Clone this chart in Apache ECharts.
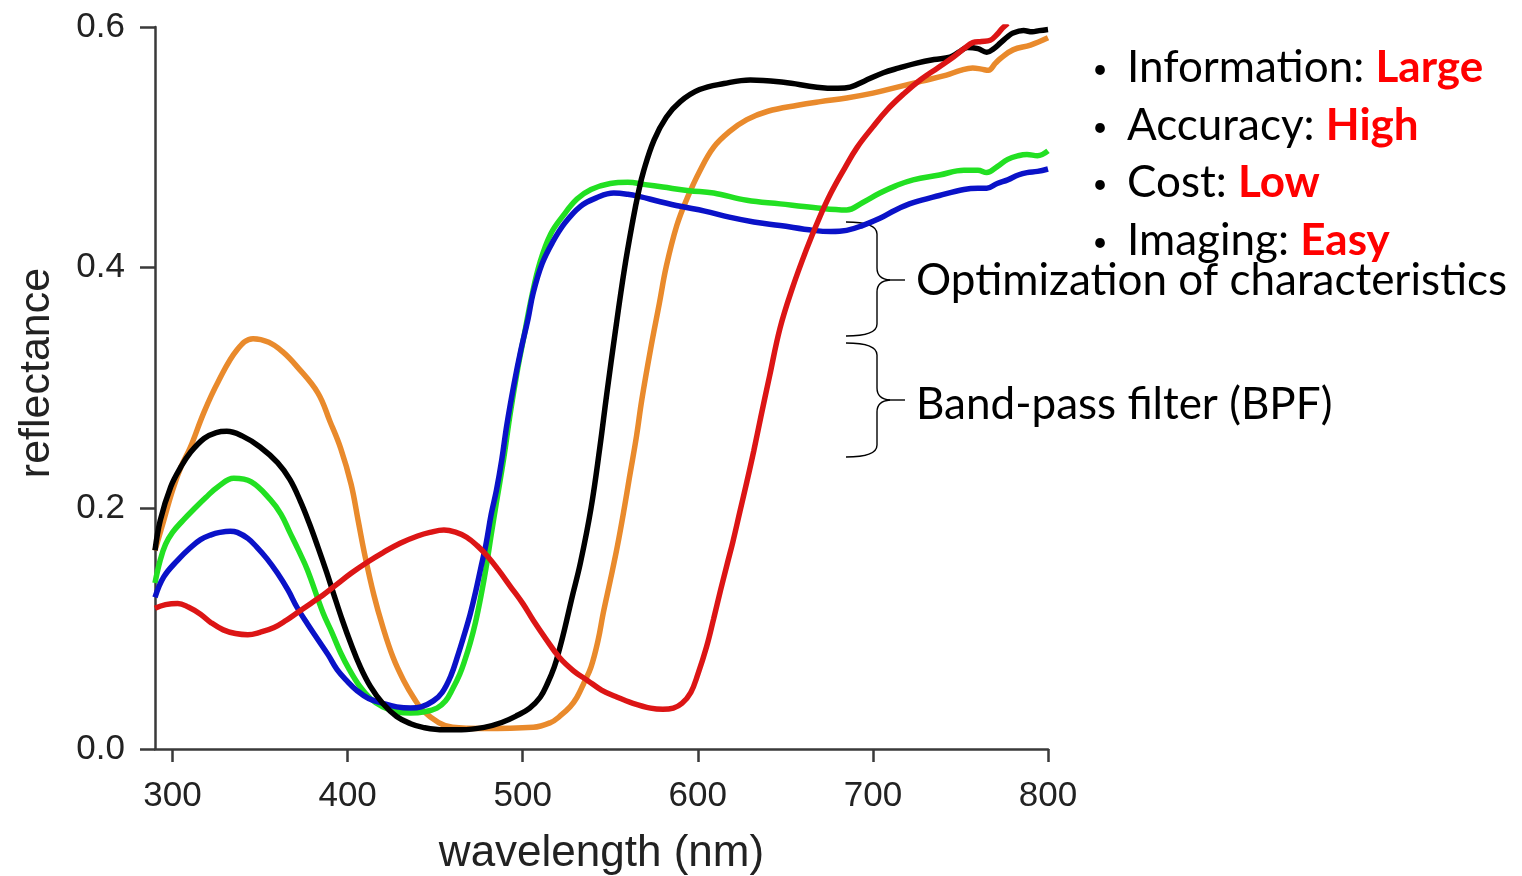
<!DOCTYPE html>
<html>
<head>
<meta charset="utf-8">
<script src="https://cdn.jsdelivr.net/npm/echarts@6/dist/echarts.min.js"></script>
<style>
html,body{margin:0;padding:0;background:#fff;}
#chart{width:1522px;height:876px;}
</style>
</head>
<body>
<div id="chart"></div>
<script>
// ---- data (wavelength in nm, reflectance) ----
const xTicks = [300, 400, 500, 600, 700, 800];
const yTicks = [0.0, 0.2, 0.4, 0.6];

const orangeX = [290,295,300,305,310,318,326,337,346,355,363,371,383,390,396,402,406,410,415,420,426,432,438,443,452,460,477,506,516,521,527,531,535,539,543,546,550,554,558,561,565,568,573,578,582,588,594,601,609,618,628,640,657,670,685,700,714,728,742,750,757,762,766,770,773,780,790,800];
const orangeY = [0.165,0.19,0.215,0.235,0.25,0.28,0.305,0.332,0.341,0.338,0.33,0.318,0.296,0.272,0.25,0.22,0.19,0.16,0.128,0.102,0.076,0.057,0.042,0.032,0.022,0.018,0.017,0.018,0.022,0.027,0.035,0.043,0.055,0.068,0.09,0.113,0.14,0.168,0.2,0.226,0.26,0.29,0.332,0.37,0.401,0.435,0.458,0.48,0.5,0.513,0.523,0.53,0.535,0.538,0.541,0.545,0.55,0.555,0.56,0.564,0.566,0.565,0.564,0.57,0.574,0.581,0.585,0.591];

const greenX = [290,293,296,300,306,312,319,326,335,345,356,362,367,372,377,386,391,396,401,407,413,420,428,436,444,451,456,460,464,467,470,473,476,479,482,485,489,493,497,501,505,510,516,523,531,539,550,560,570,580,595,609,628,647,666,685,694,704,713,723,738,752,760,765,771,777,783,788,794,800];
const greenY = [0.138,0.157,0.17,0.18,0.19,0.199,0.209,0.218,0.225,0.222,0.207,0.195,0.18,0.165,0.149,0.113,0.097,0.08,0.066,0.052,0.042,0.035,0.031,0.03,0.031,0.034,0.04,0.05,0.062,0.074,0.088,0.105,0.126,0.15,0.178,0.205,0.24,0.28,0.315,0.345,0.375,0.405,0.428,0.443,0.457,0.465,0.47,0.471,0.469,0.467,0.464,0.462,0.456,0.453,0.45,0.448,0.454,0.462,0.468,0.473,0.477,0.481,0.481,0.479,0.484,0.49,0.493,0.494,0.493,0.497];

const blueX = [290,295,303,310,316,322,327,333,337,343,348,354,360,366,371,377,383,389,394,400,405,412,420,428,436,442,449,454,459,463,466,470,473,476,479,482,485,488,491,495,499,503,506,511,517,524,533,542,552,560,567,578,590,604,618,632,647,666,676,685,694,704,713,723,738,752,760,765,771,777,783,788,794,800];
const blueY = [0.126,0.143,0.157,0.167,0.174,0.178,0.18,0.181,0.18,0.175,0.168,0.158,0.146,0.132,0.118,0.104,0.091,0.078,0.066,0.056,0.049,0.042,0.038,0.035,0.034,0.035,0.04,0.047,0.061,0.078,0.092,0.112,0.13,0.15,0.17,0.195,0.215,0.24,0.27,0.303,0.332,0.357,0.379,0.403,0.421,0.437,0.451,0.458,0.462,0.461,0.459,0.455,0.451,0.447,0.442,0.438,0.435,0.431,0.43,0.431,0.435,0.441,0.448,0.454,0.46,0.465,0.466,0.466,0.47,0.473,0.477,0.479,0.48,0.482];

const blackX = [290,293,299,305,310,318,325,331,340,350,360,367,373,378,383,388,392,397,402,407,413,420,428,436,443,455,465,478,488,497,504,510,514,518,521,524,528,533,539,544,548,553,558,563,566,569,575,582,590,601,615,630,649,668,680,687,695,706,715,725,735,744,749,754,760,765,769,773,777,780,786,791,795,800];
const blackY = [0.165,0.19,0.218,0.235,0.246,0.258,0.263,0.264,0.26,0.251,0.238,0.224,0.206,0.188,0.168,0.147,0.129,0.107,0.087,0.069,0.052,0.038,0.027,0.021,0.018,0.016,0.016,0.018,0.022,0.028,0.034,0.043,0.054,0.068,0.083,0.1,0.125,0.155,0.2,0.25,0.295,0.348,0.398,0.44,0.462,0.48,0.506,0.525,0.538,0.548,0.553,0.556,0.554,0.55,0.549,0.55,0.555,0.562,0.566,0.57,0.573,0.575,0.579,0.583,0.582,0.579,0.582,0.587,0.592,0.595,0.597,0.596,0.597,0.598];

const redX = [290,296,303,309,316,322,329,336,343,350,358,365,371,379,386,394,402,411,420,430,440,447,455,462,468,474,480,486,493,500,506,513,521,529,537,545,554,563,573,580,586,591,596,600,605,609,613,617,620,624,628,632,636,641,647,654,662,669,676,684,691,700,708,718,727,737,746,752,757,762,767,771,774,777];
const redY = [0.117,0.12,0.121,0.118,0.112,0.105,0.099,0.096,0.095,0.097,0.101,0.107,0.113,0.121,0.128,0.137,0.146,0.155,0.163,0.171,0.177,0.18,0.182,0.18,0.176,0.169,0.16,0.149,0.135,0.121,0.107,0.092,0.076,0.065,0.057,0.049,0.043,0.038,0.034,0.033,0.034,0.038,0.047,0.062,0.085,0.108,0.132,0.155,0.172,0.197,0.222,0.248,0.276,0.31,0.35,0.383,0.415,0.44,0.462,0.483,0.5,0.517,0.531,0.545,0.556,0.566,0.575,0.582,0.587,0.588,0.589,0.594,0.599,0.603];

const seriesNames = ['orange', 'green', 'blue', 'black', 'red'];
const seriesColors = ['#E98A2C', '#22E022', '#0A12C8', '#000000', '#DC1515'];

const bulletLines = [
  ['Information: ', 'Large'],
  ['Accuracy: ', 'High'],
  ['Cost: ', 'Low'],
  ['Imaging: ', 'Easy']
];
const braceLabels = ['Optimization of characteristics', 'Band-pass filter (BPF)'];

// ---- build ----
function zip(xs, ys) { return xs.map((x, i) => [x, ys[i]]); }
const seriesData = [zip(orangeX, orangeY), zip(greenX, greenY), zip(blueX, blueY), zip(blackX, blackY), zip(redX, redY)];

const axisColor = '#3a3a3a';
const labelFont = 'Liberation Sans, Arial, sans-serif';
const textFont = 'Lato, sans-serif';

const graphics = [];
bulletLines.forEach((ln, i) => {
  const y = 68 + i * 57.5;
  graphics.push({
    type: 'text', x: 1100, y: y + 2,
    style: { text: '\u2022', font: '26px ' + textFont, fill: '#000', align: 'center', verticalAlign: 'middle' }
  });
  graphics.push({
    type: 'text', x: 1127, y: y,
    style: {
      text: '{n|' + ln[0] + '}{r|' + ln[1] + '}',
      align: 'left', verticalAlign: 'middle',
      rich: {
        n: { fontSize: 44, fontFamily: textFont, fill: '#000' },
        r: { fontSize: 44, fontFamily: textFont, fontWeight: 'bold', fill: '#FF0000' }
      }
    }
  });
});
graphics.push({
  type: 'text', x: 916, y: 281,
  style: { text: braceLabels[0], font: '44px ' + textFont, fill: '#000', align: 'left', verticalAlign: 'middle' }
});
graphics.push({
  type: 'text', x: 916, y: 405,
  style: { text: braceLabels[1], font: '44px ' + textFont, fill: '#000', align: 'left', verticalAlign: 'middle' }
});

function braceParts(top, mid, bot) {
  const st = { stroke: '#000', fill: null, lineWidth: 1.4 };
  const vx = 877;
  return [
    { type: 'bezierCurve', shape: { x1: 846, y1: top, cpx1: vx, cpy1: top, x2: vx, y2: top + 12 }, style: st },
    { type: 'line', shape: { x1: vx, y1: top + 12, x2: vx, y2: mid - 12 }, style: st },
    { type: 'bezierCurve', shape: { x1: vx, y1: mid - 12, cpx1: vx, cpy1: mid - 1, x2: 890, y2: mid }, style: st },
    { type: 'line', shape: { x1: 890, y1: mid, x2: 905, y2: mid }, style: st },
    { type: 'bezierCurve', shape: { x1: 890, y1: mid, cpx1: vx, cpy1: mid + 1, x2: vx, y2: mid + 12 }, style: st },
    { type: 'line', shape: { x1: vx, y1: mid + 12, x2: vx, y2: bot - 12 }, style: st },
    { type: 'bezierCurve', shape: { x1: vx, y1: bot - 12, cpx1: vx, cpy1: bot, x2: 846, y2: bot }, style: st }
  ];
}
braceParts(222, 280, 336).forEach(g => graphics.push(g));
braceParts(343, 400, 457).forEach(g => graphics.push(g));

const option = {
  backgroundColor: '#ffffff',
  animation: false,
  grid: { left: 155, right: 474, top: 27, bottom: 127, containLabel: false, outerBoundsMode: 'none' },
  xAxis: {
    type: 'value', min: 290, max: 800,
    name: 'wavelength (nm)', nameLocation: 'middle', nameGap: 83,
    nameTextStyle: { fontSize: 44, fontFamily: labelFont, color: '#222' },
    axisLine: { show: true, lineStyle: { color: axisColor, width: 2.5 } },
    axisTick: { show: true, customValues: xTicks, length: 13, lineStyle: { color: axisColor, width: 2.5 } },
    axisLabel: { customValues: xTicks, fontSize: 35, fontFamily: labelFont, color: '#222', margin: 30 },
    splitLine: { show: false }
  },
  yAxis: {
    type: 'value', min: 0, max: 0.6, interval: 0.2,
    name: 'reflectance', nameLocation: 'middle', nameGap: 96,
    nameTextStyle: { fontSize: 43, fontFamily: labelFont, color: '#222', padding: [0, 0, 0, 30] },
    axisLine: { show: true, lineStyle: { color: axisColor, width: 2.5 } },
    axisTick: { show: true, length: 15, lineStyle: { color: axisColor, width: 2.5 } },
    axisLabel: { fontSize: 35, fontFamily: labelFont, color: '#222', margin: 30,
      formatter: v => yTicks.includes(Math.round(v * 10) / 10) ? v.toFixed(1) : '' },
    splitLine: { show: false }
  },
  series: seriesNames.map((n, i) => ({
    name: n, type: 'line', data: seriesData[i], showSymbol: false, smooth: 0.4,
    lineStyle: { color: seriesColors[i], width: 5.5 }, itemStyle: { color: seriesColors[i] }
  })),
  graphic: graphics
};

const chart = echarts.init(document.getElementById('chart'), null, { renderer: 'canvas' });
chart.setOption(option);
</script>
</body>
</html>
